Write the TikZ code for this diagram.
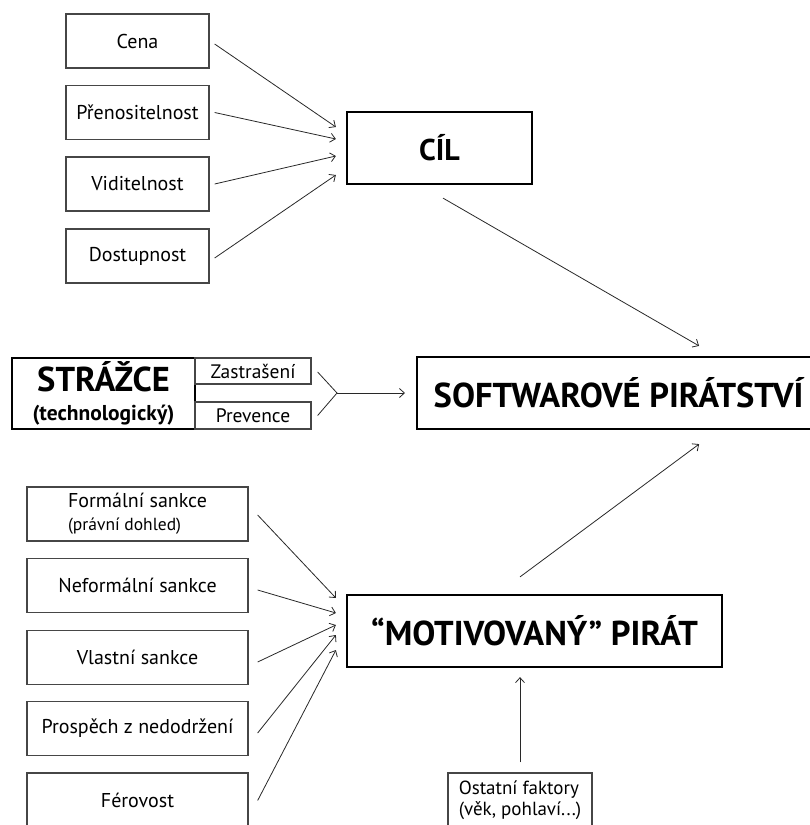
\documentclass[tikz,border=0pt]{standalone}
\usepackage{fontspec}
\setmainfont{PT Sans}
\usetikzlibrary{arrows.meta}

\begin{document}
\begin{tikzpicture}[x=1pt,y=1pt,yscale=-1,xscale=1,
  factor/.style={draw={rgb,255:red,70;green,70;blue,70},line width=1.3pt,inner sep=0pt,
    minimum width=143pt,minimum height=54pt,font=\fontsize{20}{23}\selectfont},
  mainbox/.style={draw,line width=2.2pt,inner sep=0pt,minimum height=72pt,
    font=\bfseries\fontsize{34.5}{36}\selectfont},
  arr/.style={-{Straight Barb[length=5pt,width=9pt]},line width=0.8pt,draw={rgb,255:red,40;green,40;blue,40}}]
\path[use as bounding box] (0,0) rectangle (810,825);

%Shape: Rectangle
\node[factor] (cena) at (137.5,41) {Cena};
%Shape: Rectangle
\node[factor] (pren) at (137.5,112.5) {Přenositelnost};
%Shape: Rectangle
\node[factor] (vidi) at (137.5,184) {Viditelnost};
%Shape: Rectangle
\node[factor] (dost) at (137.5,256) {Dostupnost};
%Shape: Rectangle
\node[mainbox,minimum width=185pt,font=\bfseries\fontsize{30}{32}\selectfont] (cil) at (439.5,148) {CÍL};

%Shape: Rectangle
\node[mainbox,minimum width=395pt,minimum height=72pt,anchor=west] (sw) at (416,393) {\hspace*{8pt}SOFTWAROVÉ PIRÁTSTVÍ};
%Shape: Rectangle
\node[mainbox,minimum width=183pt,minimum height=71pt,align=center,
  font=\bfseries\fontsize{34.5}{30}\selectfont] (str) at (103.5,393.5)
  {STRÁŽCE\\[-1pt]{\fontsize{21.5}{24}\selectfont(technologický)}};
%Shape: Rectangle
\node[factor,minimum width=116pt,minimum height=26pt,font=\fontsize{19.5}{22}\selectfont] (zas) at (253,371) {Zastrašení};
%Shape: Rectangle
\node[factor,minimum width=116pt,minimum height=27pt,font=\fontsize{19.5}{22}\selectfont] (prev) at (253,415.5) {Prevence};
\coordinate (join) at (337,393);

%Shape: Rectangle
\node[factor,minimum width=221pt,align=left] (form) at (137.5,514)
  {Formální sankce\\[0pt]{\fontsize{17.5}{20}\selectfont(právní dohled)}};
%Shape: Rectangle
\node[factor,minimum width=221pt] (nefo) at (137.5,585.5) {Neformální sankce};
%Shape: Rectangle
\node[factor,minimum width=221pt] (vlas) at (137.5,657.5) {Vlastní sankce};
%Shape: Rectangle
\node[factor,minimum width=221pt] (pros) at (137.5,728.5) {Prospěch z nedodržení};
%Shape: Rectangle
\node[factor,minimum width=221pt,minimum height=55pt] (fero) at (137.5,800.5) {Férovost};
%Shape: Rectangle
\node[mainbox,minimum width=375pt] (mot) at (534.5,631) {“MOTIVOVANÝ” PIRÁT};
%Shape: Rectangle
\node[factor,minimum width=144pt,minimum height=55pt,align=left,font=\fontsize{19}{22}\selectfont] (ost) at (520,800.5)
  {Ostatní faktory\\[-1pt](věk, pohlaví...)};

%Straight Lines
\draw[arr] ([xshift=5pt,yshift=3pt]cena.east) -- ([xshift=-10pt,yshift=-21pt]cil.west);
\draw[arr] ([xshift=5pt]pren.east) -- ([xshift=-10pt,yshift=-9pt]cil.west);
\draw[arr] ([xshift=5pt]vidi.east) -- ([xshift=-10pt,yshift=8pt]cil.west);
\draw[arr] ([xshift=5pt,yshift=2pt]dost.east) -- ([xshift=-10pt,yshift=27pt]cil.west);
\draw[arr] ([xshift=3.5pt,yshift=13pt]cil.south) -- ([xshift=84.5pt,yshift=-10pt]sw.north);

%Straight Lines
\draw[line width=0.8pt,draw={rgb,255:red,40;green,40;blue,40}]
  ([xshift=6pt,yshift=1pt]zas.east) -- (join) -- ([xshift=6pt]prev.east);
\draw[arr] (join) -- ([xshift=-11pt]sw.west);

%Straight Lines
\draw[arr] ([xshift=9pt,yshift=1pt]form.east) -- ([xshift=-10pt,yshift=-33pt]mot.west);
\draw[arr] ([xshift=9pt,yshift=4.5pt]nefo.east) -- ([xshift=-10pt,yshift=-18pt]mot.west);
\draw[arr] ([xshift=9pt,yshift=4.5pt]vlas.east) -- ([xshift=-10pt,yshift=-6pt]mot.west);
\draw[arr] ([xshift=9pt,yshift=4.5pt]pros.east) -- ([xshift=-10pt,yshift=4pt]mot.west);
\draw[arr] ([xshift=9pt]fero.east) -- ([xshift=-10pt,yshift=19pt]mot.west);
\draw[arr] ([xshift=-14.5pt,yshift=-17pt]mot.north) -- ([xshift=84.5pt,yshift=14pt]sw.south);
\draw[arr] ([yshift=-10pt]ost.north) -- ([xshift=-14.5pt,yshift=9pt]mot.south);

\end{tikzpicture}
\end{document}
